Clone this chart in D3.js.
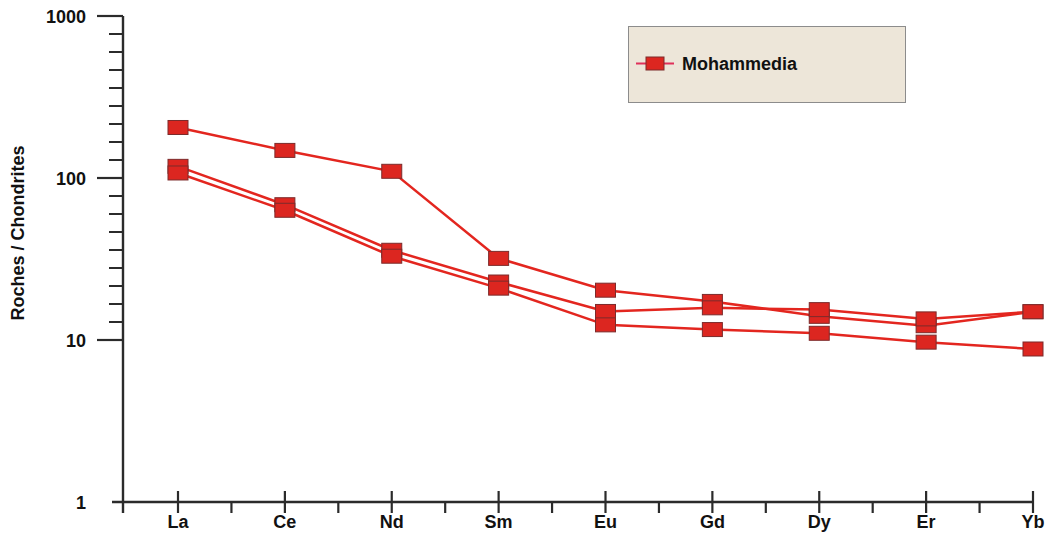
<!DOCTYPE html>
<html>
<head>
<meta charset="utf-8">
<script src="https://cdn.jsdelivr.net/npm/d3@7"></script>
<style>
  html, body { margin: 0; padding: 0; background: #ffffff; }
  svg { display: block; }
  text { font-family: "Liberation Sans", Arial, sans-serif; font-weight: bold; fill: #111; }
</style>
</head>
<body>
<svg id="chart" width="1052" height="535"></svg>
<script>
// ---- data ----
const categories = ["La", "Ce", "Nd", "Sm", "Eu", "Gd", "Dy", "Er", "Yb"];
const seriesA = [205, 148, 110, 31.9, 20.3, 17.3, 14.0, 12.25, 14.95];
const seriesB = [118, 68.4, 35.8, 22.8, 15.0, 15.8, 15.4, 13.5, 14.95];
const seriesC = [107.4, 63.2, 32.9, 20.9, 12.4, 11.6, 11.0, 9.7, 8.8];
const yTickValues = [1, 10, 100, 1000];
const yTickLabels = ["1", "10", "100", "1000"];
const legendLabel = "Mohammedia";
const yAxisTitle = "Roches / Chondrites";

const allSeries = [seriesA, seriesB, seriesC];

const svg = d3.select("#chart");
const axisColor = "#2b2b2b";
const lineColor = "#e3261f";
const markerFill = "#dc2620";
const markerStroke = "#7c2b2b";

const x = d3.scalePoint().domain(categories).range([178, 1033]);
const y = d3.scaleLog().domain([1, 1000]).range([502, 16]);
const axisX = 123;
const axisY = y(1);
const step = x.step();

// ---- y axis ----
const gy = svg.append("g");
gy.append("line").attr("x1", axisX).attr("x2", axisX)
  .attr("y1", y(1000)).attr("y2", axisY + 11)
  .attr("stroke", axisColor).attr("stroke-width", 2.4);
// major ticks
gy.selectAll("line.major").data(yTickValues.filter(v => v > 1)).join("line")
  .attr("x1", axisX - 26).attr("x2", axisX)
  .attr("y1", d => y(d)).attr("y2", d => y(d))
  .attr("stroke", axisColor).attr("stroke-width", 2.2);
// minor ticks: 8 evenly spaced per decade in upper two decades
const minorY = [];
[10, 100].forEach(d => {
  const y0 = y(d), y1 = y(d * 10);
  for (let k = 1; k <= 8; k++) minorY.push(y0 + (y1 - y0) * k / 9);
});
gy.selectAll("line.minor").data(minorY).join("line")
  .attr("x1", axisX - 14).attr("x2", axisX)
  .attr("y1", d => d).attr("y2", d => d)
  .attr("stroke", axisColor).attr("stroke-width", 2);
gy.selectAll("text").data(yTickValues).join("text")
  .attr("x", axisX - 37).attr("y", d => y(d) + 1)
  .attr("text-anchor", "end").attr("dominant-baseline", "central")
  .attr("font-size", 18)
  .text((d, i) => yTickLabels[i]);

// ---- x axis ----
const gx = svg.append("g");
gx.append("line").attr("x1", axisX - 11).attr("x2", x(categories[categories.length - 1]))
  .attr("y1", axisY).attr("y2", axisY)
  .attr("stroke", axisColor).attr("stroke-width", 2.4);
gx.selectAll("line.major").data(categories).join("line")
  .attr("x1", d => x(d)).attr("x2", d => x(d))
  .attr("y1", axisY - 11).attr("y2", axisY + 11)
  .attr("stroke", axisColor).attr("stroke-width", 2.2);
gx.selectAll("line.minor").data(categories.slice(0, -1)).join("line")
  .attr("x1", d => x(d) + step / 2).attr("x2", d => x(d) + step / 2)
  .attr("y1", axisY).attr("y2", axisY + 11)
  .attr("stroke", axisColor).attr("stroke-width", 2.2);
gx.selectAll("text").data(categories).join("text")
  .attr("x", d => x(d)).attr("y", axisY + 26)
  .attr("text-anchor", "middle")
  .attr("font-size", 18)
  .text(d => d);

// y axis title
svg.append("text")
  .attr("transform", `translate(24, ${233}) rotate(-90)`)
  .attr("text-anchor", "middle")
  .attr("font-size", 18)
  .text(yAxisTitle);

// ---- series ----
const line = d3.line().x((d, i) => x(categories[i])).y(d => y(d));
svg.append("g").selectAll("path").data(allSeries).join("path")
  .attr("d", line).attr("fill", "none")
  .attr("stroke", lineColor).attr("stroke-width", 2.5);

const mw = 20, mh = 14;
allSeries.forEach(s => {
  svg.append("g").selectAll("rect").data(s).join("rect")
    .attr("x", (d, i) => x(categories[i]) - mw / 2)
    .attr("y", d => y(d) - mh / 2)
    .attr("width", mw).attr("height", mh)
    .attr("fill", markerFill).attr("stroke", markerStroke).attr("stroke-width", 1);
});

// ---- legend ----
const lg = svg.append("g");
lg.append("rect").attr("x", 628.5).attr("y", 26.5).attr("width", 277).attr("height", 76)
  .attr("fill", "#ede6d9").attr("stroke", "#8c8c8c").attr("stroke-width", 1);
lg.append("line").attr("x1", 636).attr("x2", 674).attr("y1", 63.5).attr("y2", 63.5)
  .attr("stroke", "#e0305a").attr("stroke-width", 2);
lg.append("rect").attr("x", 646).attr("y", 57).attr("width", 18).attr("height", 13)
  .attr("fill", markerFill).attr("stroke", markerStroke).attr("stroke-width", 1);
lg.append("text").attr("x", 682).attr("y", 64).attr("dominant-baseline", "central")
  .attr("font-size", 18).text(legendLabel);
</script>
</body>
</html>
